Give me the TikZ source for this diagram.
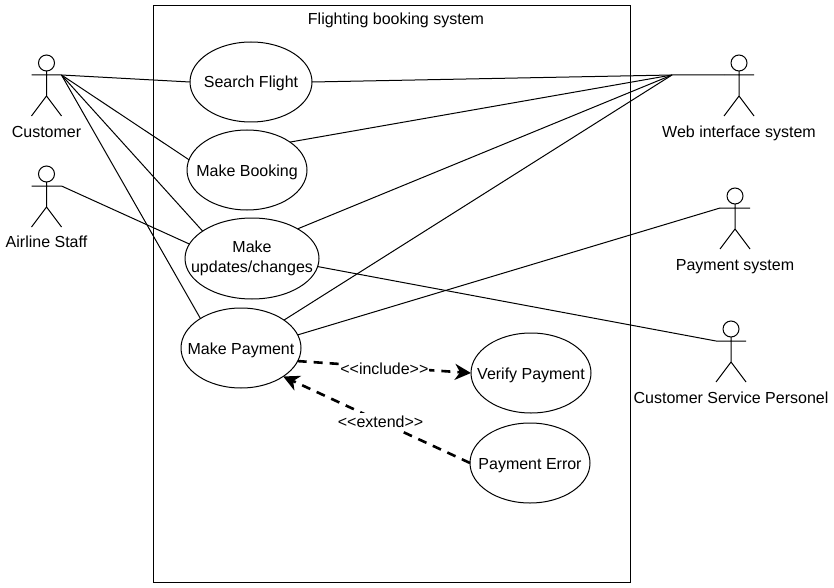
\documentclass[tikz,border=0pt]{standalone}
\usepackage{fontspec}
\setmainfont{Liberation Sans}
\usetikzlibrary{arrows.meta,shapes.geometric}
\tikzset{
  usecase/.style={draw,ellipse,inner ysep=0pt,inner xsep=-22pt,outer sep=0pt,minimum width=#1,minimum height=80pt,align=center},
  usecase/.default=120pt,
  oneline/.style={text height=12pt,text depth=0pt},
  actorlabel/.style={inner sep=0pt},
  assoc/.style={line width=1pt},
  dep/.style={line width=2.6pt,dash pattern=on 9pt off 7pt,-{Stealth[length=16pt,width=16pt,inset=5pt]}},
  deplabel/.style={fill=white,inner xsep=1pt,inner ysep=3pt},
  pics/actor/.style={code={
    \draw[line width=1pt] (0,0) circle (8pt);
    \draw[line width=1pt] (0,8) -- (0,33) (-15,12) -- (15,12) (-15,53) -- (0,33) -- (15,53);
    \coordinate (-left) at (-15,12);
    \coordinate (-right) at (15,12);
  }}
}
\begin{document}
\begin{tikzpicture}[x=1pt,y=-1pt,font=\fontsize{16}{18}\selectfont,line width=1pt]
  \useasboundingbox (0,0) rectangle (834,588);
  \node[draw,minimum width=477pt,minimum height=576pt,inner sep=0pt] (system) at (392,294) {};
  \node (title) at (396,20.5) {Flighting booking system};

  \node[usecase=122pt,oneline] (search) at (251,82) {Search Flight};
  \node[usecase,oneline] (booking) at (247,170) {Make Booking};
  \node[usecase=134pt,minimum height=81pt] (updates) at (252,258.5) {Make\\[2pt]updates/changes};
  \node[usecase,oneline] (payment) at (241,348) {Make Payment};
  \node[usecase,oneline] (verify) at (531,373) {Verify Payment};
  \node[usecase,oneline] (error) at (530,463) {Payment Error};

  \pic (customer) at (46.5,63) {actor};
  \pic (staff) at (46.5,174) {actor};
  \pic (web) at (739,63) {actor};
  \pic (paysys) at (735,196) {actor};
  \pic (service) at (731,329) {actor};

  \node[actorlabel] (customerlabel) at (46.5,132) {Customer};
  \node[actorlabel] (stafflabel) at (46.5,242) {Airline Staff};
  \node[actorlabel] (weblabel) at (739,133.5) {Web interface system};
  \node[actorlabel] (paysyslabel) at (735,266.5) {Payment system};
  \node[actorlabel] (servicelabel) at (731,398) {Customer Service Personel};

  \coordinate (webjoin) at (672,75);

  \draw[assoc] (customer-right) -- (search.west);
  \draw[assoc] (customer-right) -- (booking.170);
  \draw[assoc] (customer-right) -- (updates.151);
  \draw[assoc] (customer-right) -- (payment.144);
  \draw[assoc] (staff-right) -- (updates.167);
  \draw[assoc] (web-left) -- (webjoin) -- (search.east);
  \draw[assoc] (webjoin) -- (booking.33);
  \draw[assoc] (webjoin) -- (updates.33);
  \draw[assoc] (webjoin) -- (payment.33);
  \draw[assoc] (paysys-left) -- (payment.13);
  \draw[assoc] (service-left) -- (updates.-7);

  \draw[dep] (payment.-13) -- node[deplabel,yshift=-1.5pt] (include) {<{}<include>{}>} (verify.west);
  \draw[dep] (error.west) -- node[deplabel,xshift=4pt,yshift=-2pt] (extend) {<{}<extend>{}>} (payment.-34);
\end{tikzpicture}
\end{document}
